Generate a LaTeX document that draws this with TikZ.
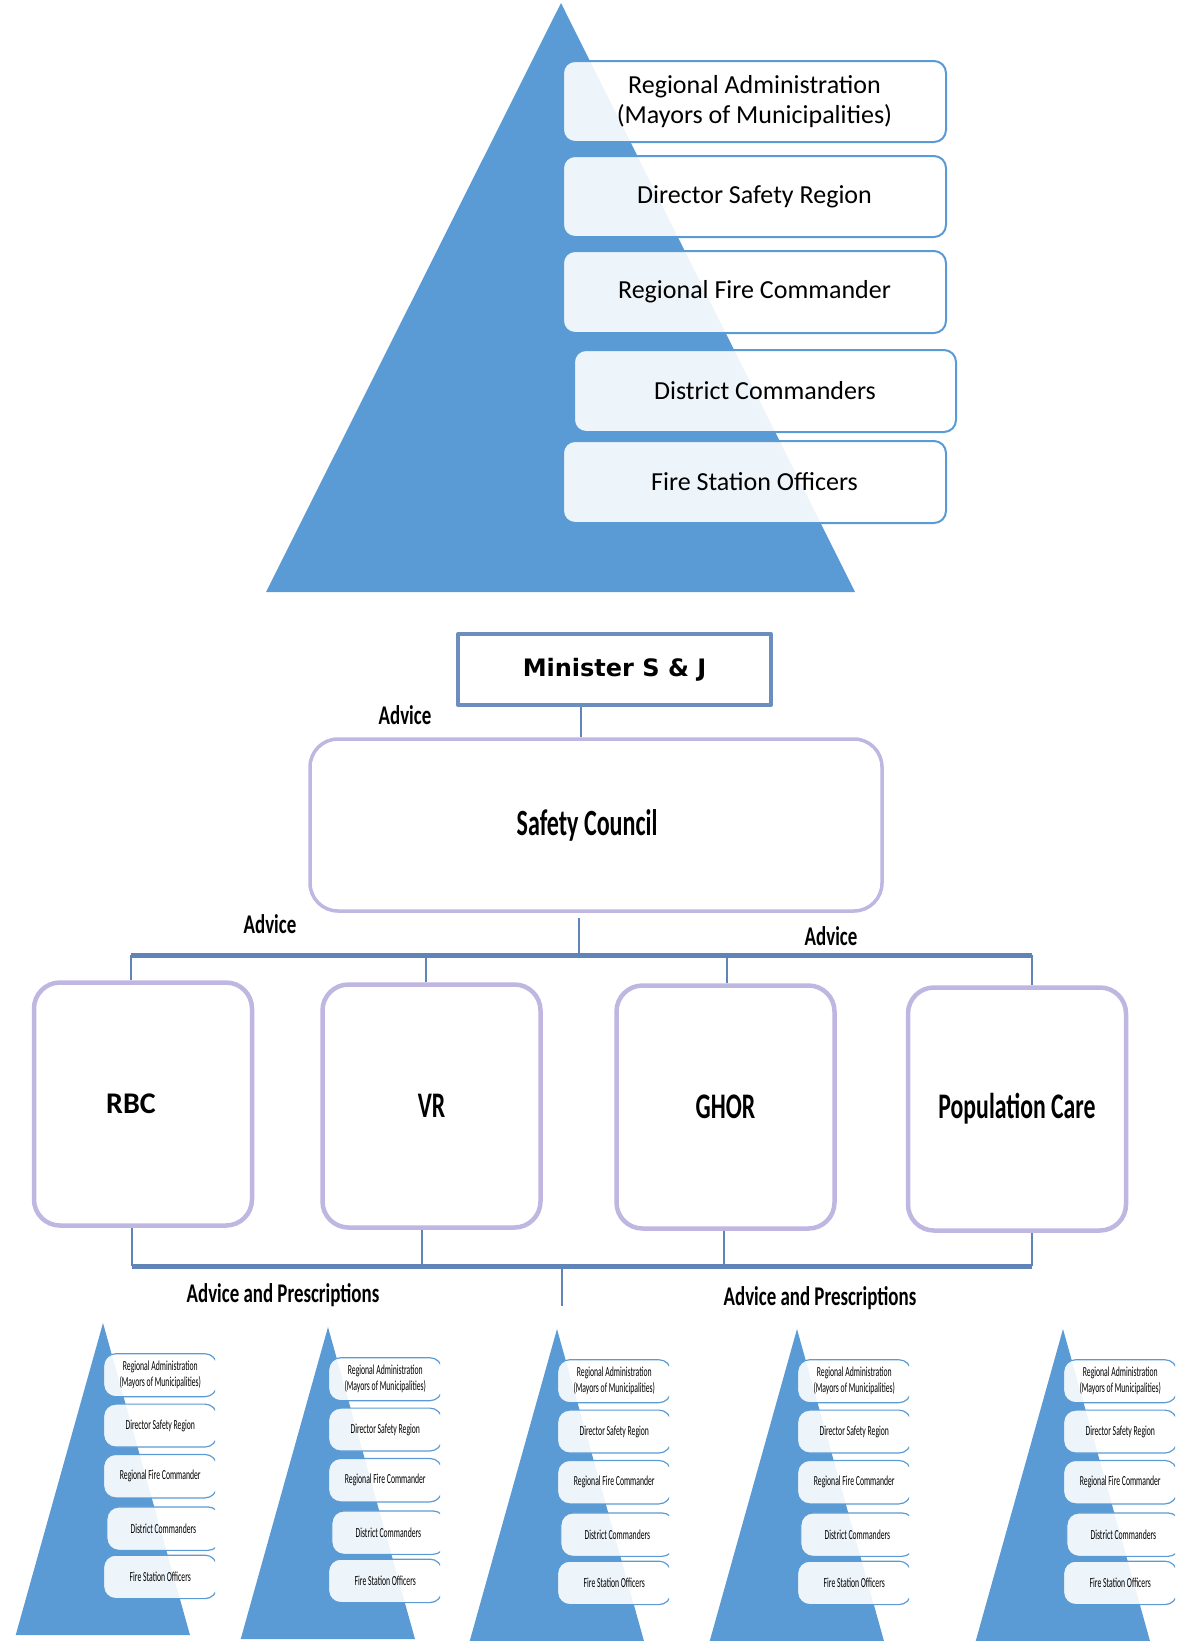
\documentclass[tikz,border=0pt]{standalone}
\usepackage{graphicx}
\usepackage{fontspec}
\setmainfont{Carlito}
\newfontfamily\wideface{DejaVu Sans}

\definecolor{pyrblue}{RGB}{91,155,213}
\definecolor{lavender}{RGB}{192,182,226}
\definecolor{minblue}{RGB}{108,142,191}
\definecolor{linkblue}{RGB}{96,131,184}

\tikzset{
  tierbox/.style={draw=pyrblue, line width=2pt, rounded corners=12pt, fill=white,
    fill opacity=0.9, text opacity=1, align=center, inner sep=0pt,
    font=\fontsize{26}{30}\selectfont},
  unitbox/.style={draw=lavender, line width=4.5pt, rounded corners=26pt, fill=white,
    minimum width=218, minimum height=243, font=\bfseries\fontsize{36}{40}\selectfont},
  link/.style={draw=linkblue, line width=2.5pt},
  bus/.style={draw=linkblue, line width=5pt},
  advice/.style={inner sep=0pt, font=\bfseries\fontsize{27}{30}\selectfont}
}

% pyramid with its five tiers, apex at the origin
\newcommand{\firepyramid}{%
  \fill[pyrblue] (0,0) -- (-295,589) -- (294,589) -- cycle;
  \node[tierbox, minimum width=383, minimum height=81] (admin) at (193.5,98.5)
    {Regional Administration\\(Mayors of Municipalities)};
  \node[tierbox, minimum width=383, minimum height=81] (director) at (193.5,193.5)
    {Director Safety Region};
  \node[tierbox, minimum width=383, minimum height=82] (regional) at (193.5,289)
    {Regional Fire Commander};
  \node[tierbox, minimum width=382, minimum height=82] (district) at (204,388)
    {District Commanders};
  \node[tierbox, minimum width=383, minimum height=82] (station) at (193.5,479)
    {Fire Station Officers};
}

\begin{document}
\begin{tikzpicture}[x=1pt, y=-1pt, line join=round]
  \useasboundingbox (0,0) rectangle (1181,1641);

  \begin{scope}[shift={(561,3)}, name prefix=top-]
    \firepyramid
  \end{scope}

  \node[draw=minblue, line width=4pt, minimum width=313, minimum height=71,
    font=\wideface\bfseries\fontsize{24}{28}\selectfont] (minister) at (614.5,669.5) {Minister S \& J};
  \node[draw=lavender, line width=3.5pt, rounded corners=28pt, minimum width=572, minimum height=172,
    font=\bfseries\fontsize{37}{40}\selectfont] (council) at (596,825)
    {\hspace*{-18pt}\scalebox{0.65}[1]{Safety Council}};

  \node[unitbox] (rbc) at (143,1104) {\hspace*{-24pt}\fontsize{30}{34}\selectfont RBC};
  \node[unitbox] (vr) at (431.5,1106) {\scalebox{0.66}[1]{VR}};
  \node[unitbox] (ghor) at (725.5,1107) {\scalebox{0.66}[1]{GHOR}};
  \node[unitbox] (care) at (1017,1109) {\scalebox{0.66}[1]{Population Care}};

  \node[advice] (advtop) at (405,715) {\scalebox{0.7}[1]{Advice}};
  \node[advice] (advleft) at (270,924) {\scalebox{0.7}[1]{Advice}};
  \node[advice] (advright) at (831,936) {\scalebox{0.7}[1]{Advice}};
  \node[advice] (presleft) at (283,1295) {\scalebox{0.7}[1]{Advice and Prescriptions}};
  \node[advice] (presright) at (820,1298) {\scalebox{0.7}[1]{Advice and Prescriptions}};

  \draw[link] ([xshift=-33.5pt]minister.south) -- ([xshift=-33.5pt]minister.south |- council.north);

  \coordinate (topbus) at (579,955);
  \coordinate (d1) at (131,955); \coordinate (d2) at (426,955);
  \coordinate (d3) at (727,955); \coordinate (d4) at (1032,955);
  \draw[link] ([xshift=-17pt,yshift=-5pt]council.south) -- (topbus);
  \draw[bus] (d1) -- (d4);
  \foreach \d/\u in {d1/rbc,d2/vr,d3/ghor,d4/care}
    \draw[link] (\d) -- (\d |- \u.north);

  \coordinate (lowbus) at (562,1266); \coordinate (lowend) at (562,1306);
  \coordinate (e1) at (132,1266); \coordinate (e2) at (422,1266);
  \coordinate (e3) at (724,1266); \coordinate (e4) at (1032,1266);
  \foreach \e/\u in {e1/rbc,e2/vr,e3/ghor,e4/care}
    \draw[link] (\u.south -| \e) -- (\e);
  \draw[bus] (e1) -- (e4);
  \draw[link] (lowbus) -- (lowend);

  % small copies of the pyramid
  \foreach \ax/\ay [count=\i] in {103/1323,328/1327,557/1329,797/1329,1063/1329}{
    \begin{scope}[shift={(\ax,\ay)}, xscale=0.296, yscale=0.53, transform shape,
      name prefix=s\i-, tierbox/.append style={line width=1.2pt}]
      \clip (-300,-10) rectangle (379,600);
      \firepyramid
    \end{scope}
  }
\end{tikzpicture}
\end{document}
